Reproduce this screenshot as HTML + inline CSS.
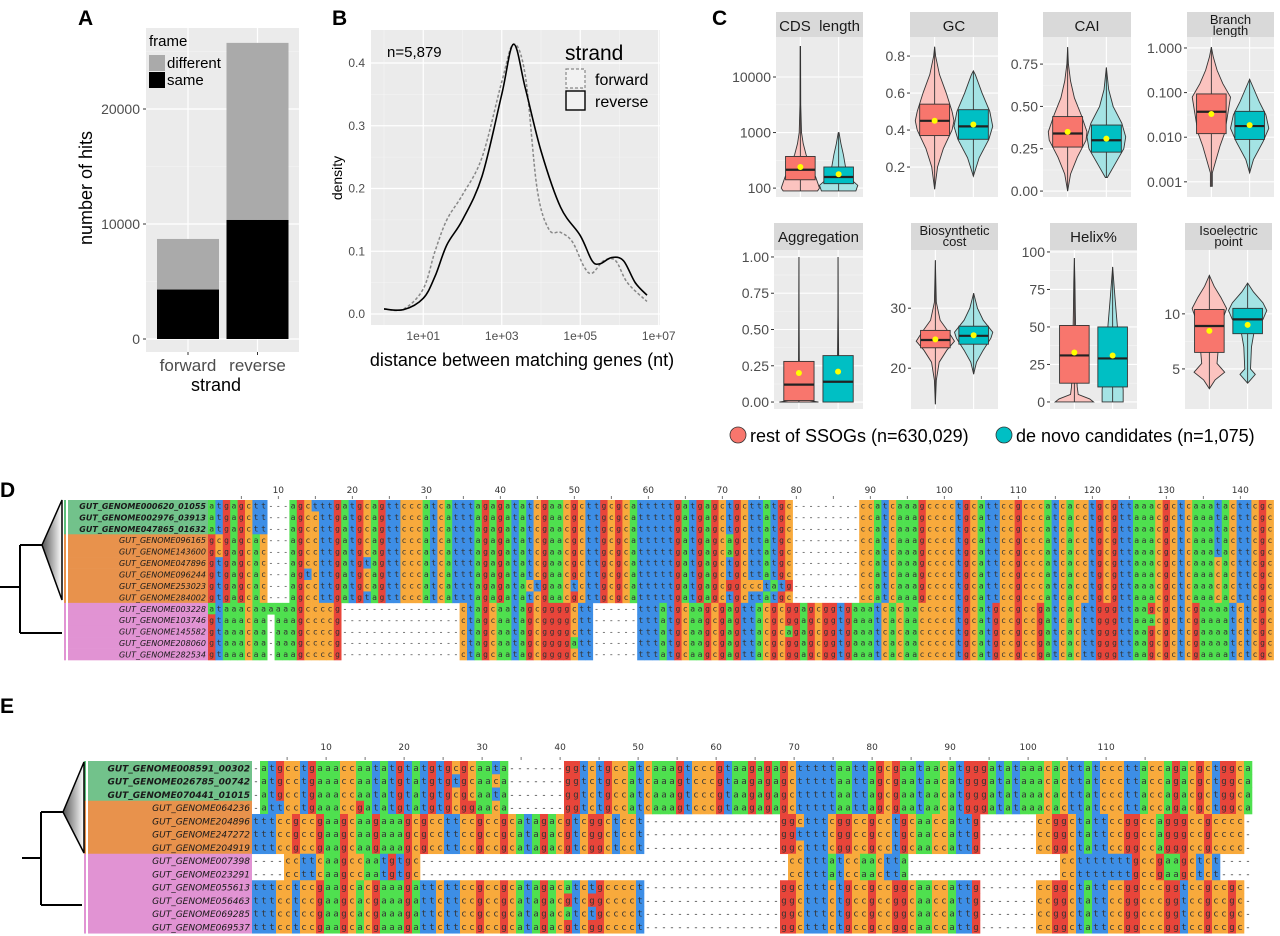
<!DOCTYPE html>
<html><head><meta charset="utf-8">
<style>
html,body{margin:0;padding:0;background:#fff;}
svg{display:block;font-family:"Liberation Sans",Arial,sans-serif;}
.tk{font-size:14px;fill:#4d4d4d;}
.ttl{font-size:18px;fill:#000;}
.pl{font-size:21px;font-weight:bold;fill:#000;}
</style></head>
<body>
<svg id="fig" width="1280" height="936" viewBox="0 0 1280 936" xmlns="http://www.w3.org/2000/svg">
<rect x="0" y="0" width="1280" height="936" fill="#fff"/>
<text class="pl" x="78" y="25">A</text>
<text class="pl" x="332" y="25">B</text>
<text class="pl" x="712" y="25">C</text>
<text class="pl" x="0" y="497">D</text>
<text class="pl" x="0" y="713">E</text>
<g id="gA"></g>
<g id="gB"></g>
<g id="gC"></g>
<g id="gD"></g>
<g id="gE"></g>
</svg>
<script>
// ---------- Panel A data ----------
const aCategories = ["forward", "reverse"];
const aSame = [4300, 10350];
const aDifferent = [4400, 15400];
const aTicks = [0, 10000, 20000];
// ---------- Panel B data ----------
const bLogX = [0, 0.5, 1, 1.3, 1.6, 2, 2.5, 3, 3.3, 3.6, 4, 4.5, 5, 5.3, 5.5, 5.8, 6.1, 6.4, 6.7];
const bReverse = [0.008, 0.007, 0.025, 0.06, 0.11, 0.15, 0.22, 0.35, 0.43, 0.36, 0.26, 0.17, 0.125, 0.085, 0.08, 0.09, 0.085, 0.05, 0.03];
const bLogXF = [0, 0.5, 1, 1.3, 1.6, 2, 2.5, 3, 3.3, 3.6, 3.9, 4.2, 4.5, 4.8, 5.1, 5.3, 5.6, 5.9, 6.2, 6.7];
const bForward = [0.008, 0.008, 0.04, 0.1, 0.15, 0.19, 0.25, 0.37, 0.43, 0.38, 0.2, 0.135, 0.13, 0.115, 0.075, 0.065, 0.085, 0.085, 0.05, 0.02];
const bYTicks = [0, 0.1, 0.2, 0.3, 0.4];
const bXTicks = [1, 3, 5, 7];
const bXTickLabels = ["1e+01", "1e+03", "1e+05", "1e+07"];
// ---------- Panel C data ----------
const cNames = ["CDS  length", "GC", "CAI", "Branch|length", "Aggregation", "Biosynthetic|cost", "Helix%", "Isoelectric|point"];
const cTickVals = [[2,3,4],[0.2,0.4,0.6,0.8],[0,0.25,0.5,0.75],[-3,-2,-1,0],[0,0.25,0.5,0.75,1],[20,30],[0,25,50,75,100],[5,10]];
const cTickLabels = [["100","1000","10000"],["0.2","0.4","0.6","0.8"],["0.00","0.25","0.50","0.75"],["0.001","0.010","0.100","1.000"],["0.00","0.25","0.50","0.75","1.00"],["20","30"],["0","25","50","75","100"],["5","10"]];
const cDomains = [[1.84,4.72],[0.038,0.903],[-0.035,0.91],[-3.34,0.246],[-0.048,1.048],[13.2,39.7],[-4.7,101.3],[1.36,15.8]];
// stats: [min, q1, median, q3, max, mean]
const cRedStats = [[1.95,2.15,2.33,2.57,4.55,2.38],[0.08,0.37,0.45,0.54,0.85,0.45],[0,0.26,0.34,0.44,0.85,0.35],[-3.1,-1.92,-1.43,-1.03,0.02,-1.48],[0,0.01,0.12,0.28,1,0.2],[14,23.4,24.7,26.3,38,24.8],[0,12.5,31,51,96,33],[3.2,6.5,8.9,10.4,13.5,8.45]];
const cTealStats = [[1.95,2.08,2.2,2.38,3.0,2.25],[0.15,0.35,0.42,0.51,0.72,0.43],[0.08,0.23,0.30,0.39,0.73,0.31],[-2.8,-2.05,-1.75,-1.42,-0.7,-1.73],[0,0,0.14,0.32,1,0.21],[19,24,25.4,27,32.5,25.5],[0,10,29,50,90,31],[3.7,8.2,9.5,10.5,12.8,9.0]];
const cRedShapes = [
 [[1.95,0.9],[2.0,1],[2.2,0.8],[2.4,0.55],[2.6,0.3],[2.8,0.15],[3.0,0.06],[3.5,0.02],[4.55,0.01]],
 [[0.08,0],[0.2,0.15],[0.3,0.45],[0.4,0.9],[0.45,1],[0.5,0.9],[0.6,0.6],[0.7,0.25],[0.8,0.05],[0.85,0]],
 [[0,0],[0.1,0.15],[0.2,0.5],[0.3,0.95],[0.35,1],[0.45,0.7],[0.55,0.35],[0.65,0.15],[0.75,0.04],[0.85,0]],
 [[-3.1,0.05],[-2.8,0.05],[-2.5,0.25],[-2.2,0.45],[-1.9,0.7],[-1.5,0.85],[-1.1,1],[-0.8,0.6],[-0.5,0.3],[-0.2,0.1],[0.02,0]],
 [[0,1],[0.02,0.1],[0.1,0.04],[0.3,0.02],[0.6,0.01],[1,0]],
 [[14,0],[18,0.05],[21,0.2],[23,0.6],[24.5,1],[26,0.7],[28,0.25],[31,0.05],[38,0]],
 [[0,1],[2,0.8],[5,0.2],[10,0.15],[20,0.1],[40,0.08],[60,0.05],[80,0.03],[96,0]],
 [[3.2,0],[4,0.3],[4.7,0.8],[5.5,0.4],[6.5,0.45],[8,0.5],[9.5,0.7],[10.5,0.9],[11.5,0.6],[12.5,0.25],[13.5,0]]
];
const cTealShapes = [
 [[1.95,0.9],[2.05,1],[2.2,0.5],[2.4,0.35],[2.6,0.25],[2.8,0.12],[3.0,0.02]],
 [[0.15,0],[0.25,0.3],[0.35,0.8],[0.42,1],[0.5,0.85],[0.6,0.45],[0.7,0.1],[0.72,0]],
 [[0.08,0.05],[0.15,0.4],[0.25,0.9],[0.32,1],[0.4,0.8],[0.5,0.35],[0.6,0.12],[0.73,0]],
 [[-2.8,0],[-2.5,0.2],[-2.1,0.7],[-1.8,1],[-1.5,0.85],[-1.2,0.5],[-0.9,0.2],[-0.7,0]],
 [[0,0.03],[0.1,0.03],[0.3,0.03],[0.6,0.01],[1,0]],
 [[19,0],[21,0.15],[23,0.5],[25,0.9],[26,1],[28,0.5],[30,0.2],[32.5,0]],
 [[0,0.55],[8,0.55],[15,0.5],[30,0.35],[50,0.25],[70,0.12],[90,0]],
 [[3.7,0],[4.5,0.4],[5,0.15],[7,0.2],[8.5,0.35],[9.5,0.8],[10.3,1],[11,0.8],[12,0.3],[12.8,0]]
];

const NS = "http://www.w3.org/2000/svg";
function mk(tag, attrs, parent) {
  const e = document.createElementNS(NS, tag);
  for (const k in attrs) e.setAttribute(k, attrs[k]);
  parent.appendChild(e);
  return e;
}
function txt(str, attrs, parent) {
  const e = mk('text', attrs, parent);
  e.textContent = str;
  return e;
}
function smoothPath(pts) {
  let d = 'M' + pts[0][0] + ',' + pts[0][1];
  for (let i = 0; i < pts.length - 1; i++) {
    const p0 = pts[Math.max(0, i - 1)], p1 = pts[i], p2 = pts[i + 1], p3 = pts[Math.min(pts.length - 1, i + 2)];
    const c1x = p1[0] + (p2[0] - p0[0]) / 6, c1y = p1[1] + (p2[1] - p0[1]) / 6;
    const c2x = p2[0] - (p3[0] - p1[0]) / 6, c2y = p2[1] - (p3[1] - p1[1]) / 6;
    d += 'C' + c1x + ',' + c1y + ' ' + c2x + ',' + c2y + ' ' + p2[0] + ',' + p2[1];
  }
  return d;
}

// ================= Panel A =================
(function () {
  const g = document.getElementById('gA');
  const L = 146, R = 299, T = 28, B = 352;
  const y = v => 339 - v * 0.0115;
  const bg = mk('rect', {x: L, y: T, width: R - L, height: B - T, fill: '#ebebeb'}, g);
  
  
  [5000, 15000, 25000].forEach(v => {
    const l = mk('line', {x1: L, x2: R, y1: y(v), y2: y(v), stroke: '#f5f5f5', 'stroke-width': 0.6}, g);
    
    
  });
  const cx = [188, 257.5], bw = 62;
  aTicks.forEach(v => {
    const l = mk('line', {x1: L, x2: R, y1: y(v), y2: y(v), stroke: '#fff', 'stroke-width': 1.2}, g);
    
    
    const t = txt(String(v), {x: 140, y: y(v) + 5, 'text-anchor': 'end', class: 'tk'}, g);
    
    
    const tk = mk('line', {x1: 143, x2: 146, y1: y(v), y2: y(v), stroke: '#333'}, g);
    
    
  });
  aCategories.forEach((c, i) => {
    const gl = mk('line', {x1: cx[i], x2: cx[i], y1: T, y2: B, stroke: '#fff', 'stroke-width': 1.2}, g);
    
    
    const tot = aSame[i] + aDifferent[i];
    const r1 = mk('rect', {x: cx[i] - bw / 2, y: y(tot), width: bw, height: y(aSame[i]) - y(tot), fill: '#aaaaaa'}, g);
    
    
    const r2 = mk('rect', {x: cx[i] - bw / 2, y: y(aSame[i]), width: bw, height: y(0) - y(aSame[i]), fill: '#000'}, g);
    
    
    const t = txt(c, {x: cx[i], y: 371, 'text-anchor': 'middle', style: 'font-size:17px;fill:#4d4d4d'}, g);
    
    
    const tk = mk('line', {x1: cx[i], x2: cx[i], y1: B, y2: B + 3, stroke: '#333'}, g);
    
    
  });
  const xt = txt('strand', {x: 216, y: 391, 'text-anchor': 'middle', class: 'ttl'}, g);
  
  
  const yt = txt('number of hits', {x: 0, y: 0, 'text-anchor': 'middle', class: 'ttl', transform: 'translate(92,188) rotate(-90)'}, g);
  
  
  const lt = txt('frame', {x: 149, y: 46, style: 'font-size:15px'}, g);
  
  
  const k1 = mk('rect', {x: 149, y: 55, width: 16, height: 16, fill: '#aaaaaa'}, g);
  
  
  const k2 = mk('rect', {x: 149, y: 72, width: 16, height: 16, fill: '#000'}, g);
  
  
  const l1 = txt('different', {x: 167, y: 68, style: 'font-size:15px'}, g);
  
  
  const l2 = txt('same', {x: 167, y: 85, style: 'font-size:15px'}, g);
  
  
})();

// ================= Panel B =================
(function () {
  const g = document.getElementById('gB');
  const L = 371, R = 660, T = 30, B = 325;
  const x = lv => 384 + lv * 39.25;
  const y = v => 314 - v * 627.5;
  const bg = mk('rect', {x: L, y: T, width: R - L, height: B - T, fill: '#ebebeb'}, g);
  
  
  [0, 2, 4, 6].forEach(v => {
    const l = mk('line', {x1: x(v), x2: x(v), y1: T, y2: B, stroke: '#f5f5f5', 'stroke-width': 0.6}, g);
    
    
  });
  [0.05, 0.15, 0.25, 0.35].forEach(v => {
    const l = mk('line', {x1: L, x2: R, y1: y(v), y2: y(v), stroke: '#f5f5f5', 'stroke-width': 0.6}, g);
    
    
  });
  bYTicks.forEach(v => {
    const l = mk('line', {x1: L, x2: R, y1: y(v), y2: y(v), stroke: '#fff', 'stroke-width': 1.2}, g);
    
    
    const t = txt(v.toFixed(1), {x: 365, y: y(v) + 4, 'text-anchor': 'end', style: 'font-size:12px;fill:#4d4d4d'}, g);
    
    
  });
  bXTicks.forEach((v, i) => {
    const l = mk('line', {x1: x(v), x2: x(v), y1: T, y2: B, stroke: '#fff', 'stroke-width': 1.2}, g);
    
    
    const t = txt(bXTickLabels[i], {x: x(v), y: 340, 'text-anchor': 'middle', style: 'font-size:12px;fill:#4d4d4d'}, g);
    
    
  });
  const pf = mk('path', {d: smoothPath(bLogXF.map((v, i) => [x(v), y(bForward[i])])), fill: 'none', stroke: '#888', 'stroke-width': 1.5, 'stroke-dasharray': '3,2'}, g);
  
  
  const pr = mk('path', {d: smoothPath(bLogX.map((v, i) => [x(v), y(bReverse[i])])), fill: 'none', stroke: '#000', 'stroke-width': 1.6}, g);
  
  
  const n = txt('n=5,879', {x: 387, y: 57, style: 'font-size:15px'}, g);
  
  
  const lt = txt('strand', {x: 565, y: 60, style: 'font-size:21px'}, g);
  
  
  const k1 = mk('rect', {x: 566, y: 69, width: 19, height: 19, fill: '#f2f2f2', stroke: '#888', 'stroke-dasharray': '3,2', 'stroke-width': 1.2}, g);
  
  
  const k2 = mk('rect', {x: 566, y: 91, width: 19, height: 19, fill: '#f2f2f2', stroke: '#000', 'stroke-width': 1.4}, g);
  
  
  const l1 = txt('forward', {x: 595, y: 85, style: 'font-size:16px'}, g);
  
  
  const l2 = txt('reverse', {x: 595, y: 107, style: 'font-size:16px'}, g);
  
  
  const yt = txt('density', {x: 0, y: 0, 'text-anchor': 'middle', style: 'font-size:14px', transform: 'translate(342,178) rotate(-90)'}, g);
  
  
  const xt = txt('distance between matching genes (nt)', {x: 522, y: 366, 'text-anchor': 'middle', style: 'font-size:18px'}, g);
  
  
})();

// ================= Panel C =================
(function () {
  const g = document.getElementById('gC');
  const xs = [[776, 863], [910, 998], [1043, 1131], [1187, 1274], [774, 863], [911, 998], [1050, 1137], [1185, 1272]];
  cNames.forEach((name, p) => {
    const row = p < 4 ? 0 : 1;
    const sT = row ? 223 : 12, pT = row ? 250 : 37, pB = row ? 409 : 197;
    const L = xs[p][0], R = xs[p][1], W = R - L;
    const dom = cDomains[p];
    const y = v => pB - (v - dom[0]) / (dom[1] - dom[0]) * (pB - pT);
    const st = mk('rect', {x: L, y: sT, width: W, height: pT - sT, fill: '#d9d9d9'}, g);
    
    
    const parts = name.split('|');
    if (parts.length === 1) {
      const t = txt(parts[0], {x: L + W / 2, y: sT + 19, 'text-anchor': 'middle', style: 'font-size:15px;fill:#1a1a1a;white-space:pre', 'xml:space': 'preserve'}, g);
      
      
    } else {
      parts.forEach((s, i) => {
        const t = txt(s, {x: L + W / 2, y: sT + 12 + i * 11, 'text-anchor': 'middle', style: 'font-size:13px;fill:#1a1a1a'}, g);
        
        
      });
    }
    const bg = mk('rect', {x: L, y: pT, width: W, height: pB - pT, fill: '#ebebeb'}, g);
    
    
    const tv = cTickVals[p];
    for (let i = 0; i + 1 < tv.length; i++) {
      const mv = (tv[i] + tv[i + 1]) / 2;
      const l = mk('line', {x1: L, x2: R, y1: y(mv), y2: y(mv), stroke: '#f5f5f5', 'stroke-width': 0.6}, g);
      
      
    }
    tv.forEach((v, i) => {
      const l = mk('line', {x1: L, x2: R, y1: y(v), y2: y(v), stroke: '#fff', 'stroke-width': 1.1}, g);
      
      
      const t = txt(cTickLabels[p][i], {x: L - 5, y: y(v) + 5, 'text-anchor': 'end', style: 'font-size:14px;fill:#4d4d4d'}, g);
      
      
      const tk = mk('line', {x1: L - 3, x2: L, y1: y(v), y2: y(v), stroke: '#333'}, g);
      
      
    });
    const groups = [[cRedStats[p], cRedShapes[p], '#F8766D', '#fbc3bf', 'rest'], [cTealStats[p], cTealShapes[p], '#00BFC4', '#a4e3e4', 'denovo']];
    groups.forEach((gr, gi) => {
      const cx = L + W * (gi ? 0.72 : 0.28);
      const gl = mk('line', {x1: cx, x2: cx, y1: pT, y2: pB, stroke: '#fff', 'stroke-width': 1.1}, g);
      
      
      const H = W * 0.22;
      const sh = gr[1];
      const left = sh.map(s => (cx - s[1] * H) + ',' + y(s[0]));
      const right = sh.slice().reverse().map(s => (cx + s[1] * H) + ',' + y(s[0]));
      const vi = mk('polygon', {points: left.concat(right).join(' '), fill: gr[3], stroke: '#333', 'stroke-width': 0.9}, g);
      
      
      const s = gr[0];
      const wh = mk('line', {x1: cx, x2: cx, y1: y(s[0]), y2: y(s[4]), stroke: '#333', 'stroke-width': 0.9}, g);
      
      
      const bw = W * 0.34;
      const bx = mk('rect', {x: cx - bw / 2, y: y(s[3]), width: bw, height: Math.max(1, y(s[1]) - y(s[3])), fill: gr[2], stroke: '#333', 'stroke-width': 0.9}, g);
      
      
      const md = mk('line', {x1: cx - bw / 2, x2: cx + bw / 2, y1: y(s[2]), y2: y(s[2]), stroke: '#222', 'stroke-width': 2.2}, g);
      
      
      const mn = mk('circle', {cx: cx, cy: y(s[5]), r: 3, fill: '#ffff00'}, g);
      
      
    });
  });
  const c1 = mk('circle', {cx: 738, cy: 435, r: 8, fill: '#F8766D', stroke: '#333', 'stroke-width': 0.8}, g);
  
  
  const t1 = txt('rest of SSOGs (n=630,029)', {x: 750, y: 442, style: 'font-size:18px'}, g);
  
  
  const c2 = mk('circle', {cx: 1004, cy: 435, r: 8, fill: '#00BFC4', stroke: '#333', 'stroke-width': 0.8}, g);
  
  
  const t2 = txt('de novo candidates (n=1,075)', {x: 1016, y: 442, style: 'font-size:18px'}, g);
  
  
})();

// ================= Alignments =================
const dNames = ["GUT_GENOME000620_01055","GUT_GENOME002976_03913","GUT_GENOME047865_01632","GUT_GENOME096165","GUT_GENOME143600","GUT_GENOME047896","GUT_GENOME096244","GUT_GENOME253023","GUT_GENOME284002","GUT_GENOME003228","GUT_GENOME103746","GUT_GENOME145582","GUT_GENOME208060","GUT_GENOME282534"];
const dGroups = [0,0,0,1,1,1,1,1,1,2,2,2,2,2];
const eNames = ["GUT_GENOME008591_00302","GUT_GENOME026785_00742","GUT_GENOME070441_01015","GUT_GENOME064236","GUT_GENOME204896","GUT_GENOME247272","GUT_GENOME204919","GUT_GENOME007398","GUT_GENOME023291","GUT_GENOME055613","GUT_GENOME056463","GUT_GENOME069285","GUT_GENOME069537"];
const eGroups = [0,0,0,1,1,1,1,2,2,2,2,2,2];

const NT = {a: '#4fe04f', c: '#f8aa3c', g: '#e8453a', t: '#3d8ee6'};
const GRP = ['#72c28b', '#e8924c', '#e193d3'];
const GRPBAR = ['#5cbf7a', '#e8924c', '#e193d3'];

function buildRows(n, N, segsFor) {
  const rows = [];
  for (let r = 0; r < n; r++) {
    const arr = new Array(N).fill('-');
    segsFor(r).forEach(sg => {
      const [c0, c1, s] = sg;
      const span = c1 - c0;
      for (let i = 0; i < span; i++) arr[c0 + i] = s[Math.floor(i * s.length / span)];
    });
    rows.push(arr);
  }
  return rows;
}

const dTop = "cccatcatttagagatatcgaacgcttgcgcatttttgatgagctgcttatgc";
const dTop2 = "ccatcaaagcccctgcattccgcccatcacctgcgttaaacgctcaaatacttcgc";
const dRows = buildRows(14, 144, r => {
  if (r < 9) {
    const h = r < 3 ? "atgagctt" : (r < 5 ? "gcgagcac" : "gtgagcac");
    const m = (r === 0) ? "agctttgatgcagtt" : (r === 5 || r === 8 ? "agccttgatgtagtt" : (r === 6 ? "agtcttgatgcagtt" : "agccttgatgcagtt"));
    let t = dTop;
    if (r === 7) t = "cccatcatttagagatactgaactcttgcgcatttttgatgagcggccctatgc";
    if (r === 3 || r === 4) t = "cccatcatttagagatatcgaacgcttgcgcatttttgatgagcagcttatgc";
    let t2 = dTop2;
    if (r >= 5) t2 = "ccatcaaagcccctgcattccgcccatcacctgcgttaaacgctcaaacacttcgc";
    return [[0, 8, h], [11, 26, m], [26, 79, t], [88, 144, t2]];
  } else {
    const h = r === 9 ? "ataaacaaaaaagccccg" : "gtaaacaa-aaagccccg";
    const mid = r === 12 ? "ctagcaatagcggggatt" : "ctagcaatagcggggctt";
    const m2 = r === 11 ? "tttatgcaagcgagttacgcagagcg" : "tttatgcaagcgagttacgcggagcg";
    const e = r === 10 ? "gtgaaatcacaaccccctgcatgccgccgatcacttgggttaaacgctcgaaaatctcgc" : "gtgaaatcacaaccccctgcatgccgccgatcacttgggttaagcgctcgaaaatctcgc";
    return [[0, 18, h], [34, 52, mid], [58, 84, m2], [84, 144, e]];
  }
});

const eTopA = "-atgcctgaaaccaatatgtatgtgcgcaata";
const eTopB = "gtctgccatcaaagtccgtaagagagctttttattagcgaataacatggatataaacacttatccttaccagacgctggca";
const eRows = buildRows(13, 125, r => {
  if (r < 4) {
    const a = r === 3 ? "-attcctgaaaccgatatgtatgtgcggaaca" : (r === 1 ? "-atgcctgaaaccaatatgtatgtgtgcaaca" : eTopA);
    return [[0, 32, a], [39, 125, eTopB]];
  } else if (r < 7) {
    return [[0, 49, "ttccgccgaagcaagaaagcgcctccgccgcatagacgtcggctcct"], [66, 91, r === 5 ? "gttttcggccgctgcaaccattg" : "gctttcggccgctgcaaccattg"], [98, 124, "cggctattccggcagggccgcccc"]];
  } else if (r < 9) {
    return [[4, 21, "cttcaagccaatgtgc"], [67, 82, "ctttatcaactta"], [101, 121, "ctttttttgcgaagctct"]];
  } else {
    const a = (r === 10 || r === 12) ? "ttcctccgaagcacgaaagattctccgccgcatagacgtcggcccct" : "ttcctccgaagcacgaaagattctccgccgcatagacatctgcccct";
    return [[0, 49, a], [66, 91, "gctttctgccgcggcaaccattg"], [98, 124, "cggctattccggccggtccgccgc"]];
  }
});

function drawAlignment(gid, names, groups, rows, geo) {
  const g = document.getElementById(gid);
  const {top, rh, nameL, seqL, cw, fs, nfs, numY, tree, maxLabel, labelStep} = geo;
  names.forEach((nm, r) => {
    const bgc = mk('rect', {x: nameL, y: top + r * rh, width: seqL - nameL, height: rh + 0.3, fill: GRP[groups[r]]}, g);
    
    
    const bold = groups[r] === 0 && nm.length > 17;
    const t = txt(nm, {x: seqL - 2, y: top + r * rh + rh * 0.78, 'text-anchor': 'end', style: 'font-size:' + nfs + 'px;font-style:italic;fill:#1a1a1a;' + (bold ? 'font-weight:bold;' : '') + 'font-family:"DejaVu Sans",sans-serif'}, g);
    
    
    const bar = mk('rect', {x: nameL - 4, y: top + r * rh, width: 2, height: rh + 0.3, fill: GRPBAR[groups[r]]}, g);
    
    
  });
  rows.forEach((row, r) => {
    row.forEach((ch, c) => {
      const x = seqL + c * cw, y = top + r * rh;
      if (ch !== '-') {
        const cell = mk('rect', {x: x, y: y, width: cw + 0.3, height: rh + 0.3, fill: NT[ch]}, g);
        
        
      }
      const t = txt(ch, {x: x + cw / 2, y: y + rh * 0.75, 'text-anchor': 'middle', style: 'font-size:' + fs + 'px;fill:#333;font-family:"DejaVu Sans Mono",monospace'}, g);
      
      
    });
  });
  const N = rows[0].length;
  const ls = labelStep || cw;
  for (let c = 5; c <= Math.min(N, maxLabel + 5); c += 5) {
    const x = seqL + (c - 0.5) * ls;
    const tk = mk('line', {x1: x, x2: x, y1: top - 4, y2: top - 1, stroke: '#555', 'stroke-width': 0.8}, g);
    
    
    if (c % 10 === 0 && c <= maxLabel) {
      const t = txt(String(c), {x: x, y: numY, 'text-anchor': 'middle', style: 'font-size:9px;fill:#333;font-family:"DejaVu Sans",sans-serif'}, g);
      
      
    }
  }
  const tr = tree;
  const grad = mk('linearGradient', {id: gid + 'grad', x1: '0', x2: '1', y1: '0', y2: '0'}, g);
  mk('stop', {offset: '0', 'stop-color': '#555'}, grad);
  mk('stop', {offset: '1', 'stop-color': '#fff'}, grad);
  const tri = mk('polygon', {points: tr.ax + ',' + tr.ay + ' ' + tr.bx + ',' + tr.b0 + ' ' + tr.bx + ',' + tr.b1, fill: 'url(#' + gid + 'grad)', stroke: '#000', 'stroke-width': 1.5}, g);
  
  
  const path = mk('path', {d: 'M' + tr.r0 + ',' + tr.ry + 'H' + tr.vx + 'M' + tr.vx + ',' + tr.ay + 'V' + tr.by + 'M' + tr.vx + ',' + tr.ay + 'H' + tr.ax + 'M' + tr.vx + ',' + tr.by + 'H' + tr.bxe, fill: 'none', stroke: '#000', 'stroke-width': 2}, g);
  
  
}

drawAlignment('gD', dNames, dGroups, dRows, {top: 500, rh: 11.43, nameL: 68, seqL: 208, cw: 7.4, fs: 8, nfs: 8, numY: 493, maxLabel: 140,
  tree: {ax: 42, ay: 545, bx: 62, b0: 500, b1: 600, vx: 20, by: 633, bxe: 62, r0: 0, ry: 587}});
drawAlignment('gE', eNames, eGroups, eRows, {top: 761, rh: 13.25, nameL: 88, seqL: 252, cw: 8.0, fs: 9, nfs: 9, numY: 750, maxLabel: 110, labelStep: 7.8,
  tree: {ax: 63, ay: 812, bx: 84, b0: 762, b1: 853, vx: 41, by: 905, bxe: 82, r0: 22, ry: 858}});
</script>
</body></html>
